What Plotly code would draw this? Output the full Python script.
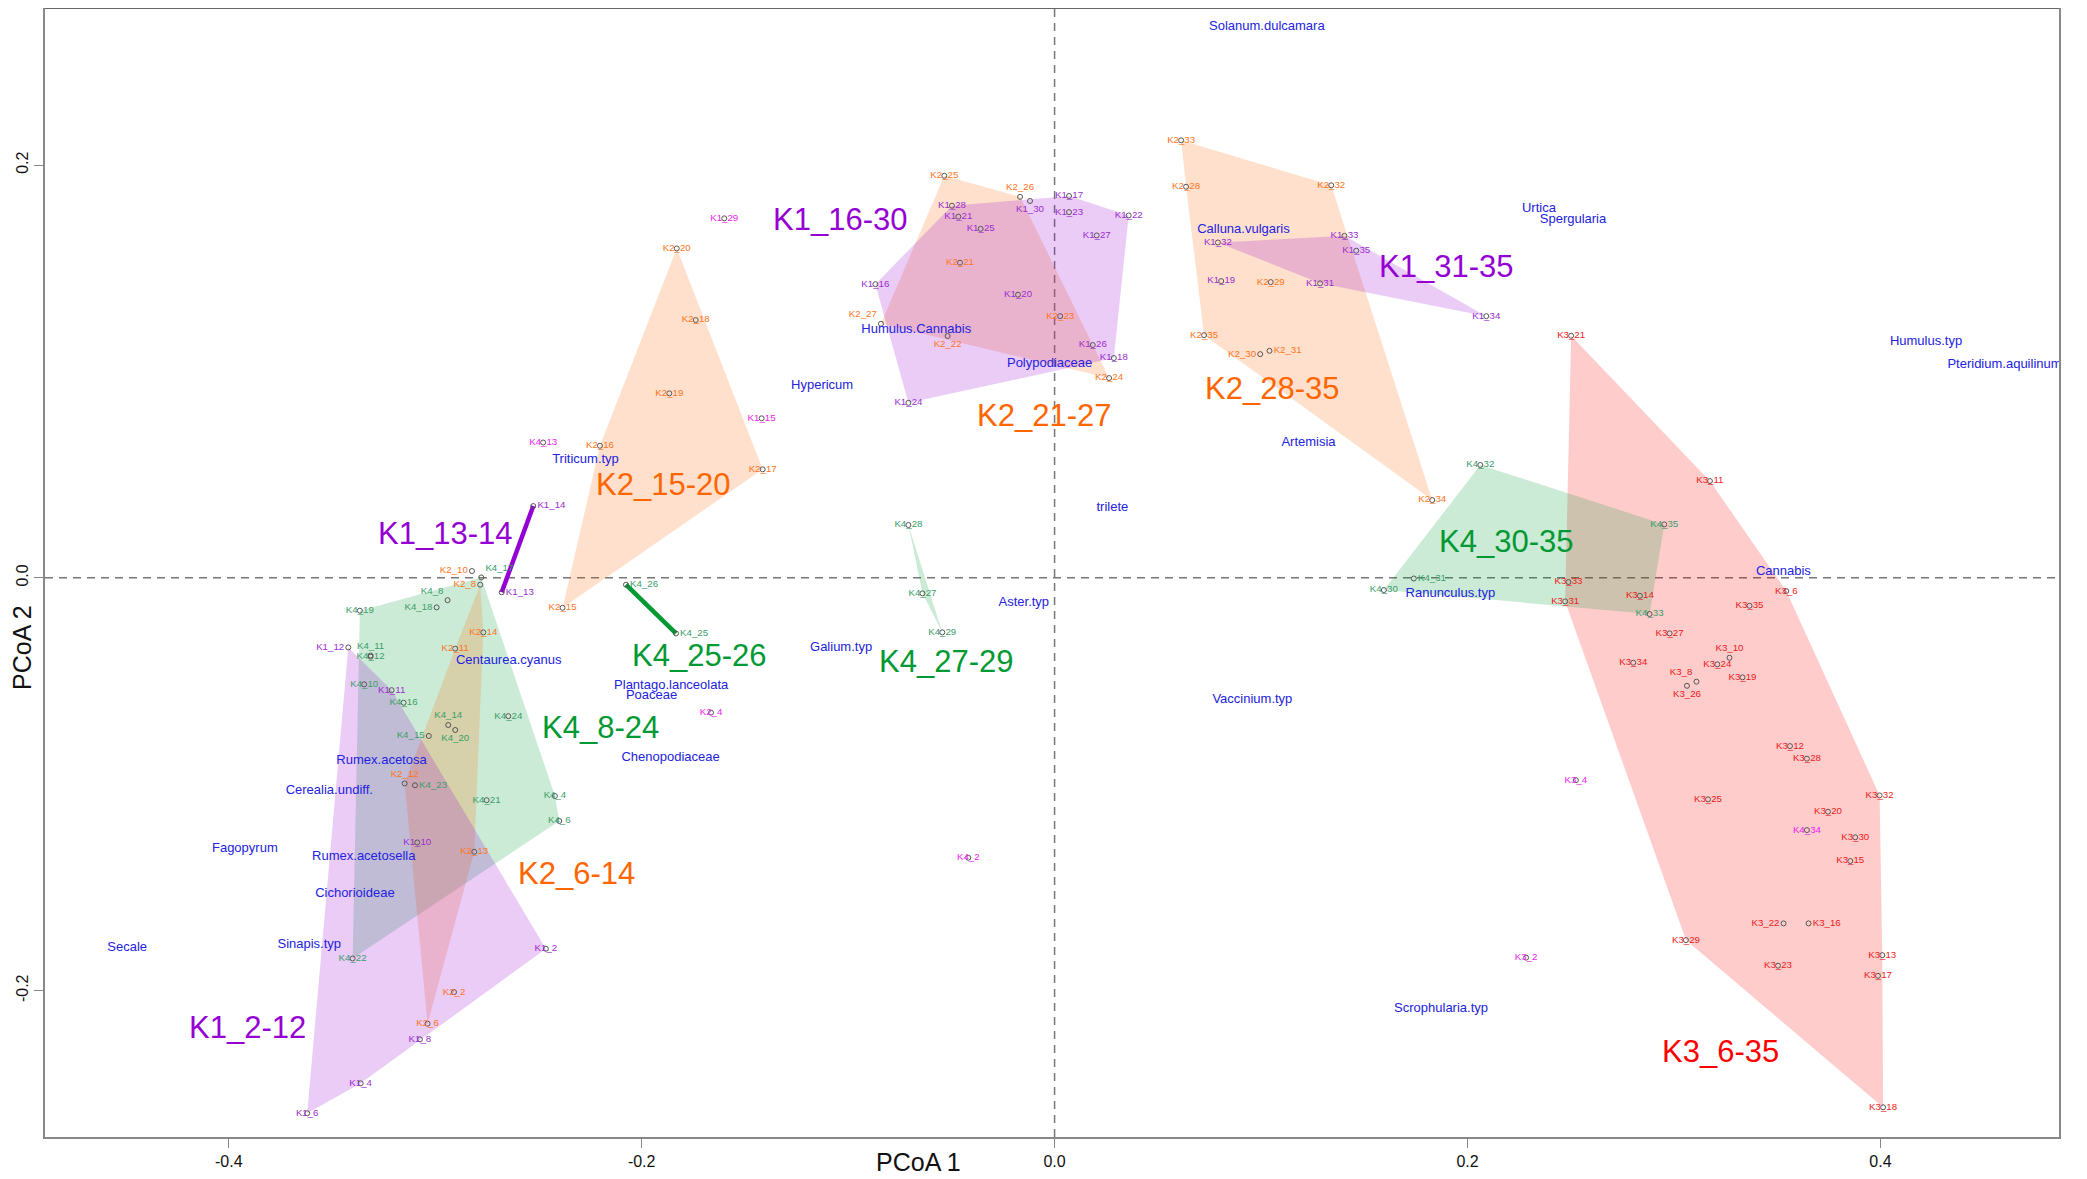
import plotly.graph_objects as go

# ---------------- sample scores (PCoA 1, PCoA 2) ----------------
K1_ids = [2, 4, 6, 8, 10, 11, 12, 13, 14, 15, 16, 17, 18, 19, 20, 21, 22, 23, 24, 25, 26, 27, 28, 29, 30, 31, 32, 33, 34, 35]
K1_x = [-0.2464, -0.3361, -0.3620, -0.3074, -0.3087, -0.3211, -0.3421, -0.2678, -0.2525, -0.1419,
        -0.0868, 0.0070, 0.0287, 0.0807, -0.0177, -0.0466, 0.0359, 0.0070, -0.0708, -0.0358,
        0.0185, 0.0204, -0.0497, -0.1600, -0.0119, 0.1286, 0.0791, 0.1404, 0.2091, 0.1461]
K1_y = [-0.1797, -0.2449, -0.2594, -0.2236, -0.1282, -0.0544, -0.0337, -0.0070, 0.0348, 0.0773,
        0.1423, 0.1850, 0.1065, 0.1438, 0.1372, 0.1750, 0.1756, 0.1772, 0.0848, 0.1691,
        0.1128, 0.1659, 0.1803, 0.1742, 0.1826, 0.1427, 0.1625, 0.1657, 0.1268, 0.1585]

K2_ids = [2, 4, 6, 8, 10, 11, 12, 13, 14, 15, 16, 17, 18, 19, 20, 21, 22, 23, 24, 25, 26, 27, 28, 29, 30, 31, 32, 33, 34, 35]
K2_x = [-0.2909, -0.1664, -0.3037, -0.2782, -0.2822, -0.2903, -0.3148, -0.2811, -0.2767, -0.2383,
        -0.2202, -0.1414, -0.1738, -0.1866, -0.1830, -0.0458, -0.0518, 0.0027, 0.0264, -0.0534,
        -0.0167, -0.0841, 0.0637, 0.1047, 0.0996, 0.1041, 0.1340, 0.0613, 0.1829, 0.0724]
K2_y = [-0.2007, -0.0653, -0.2160, -0.0033, 0.0033, -0.0343, -0.0996, -0.1327, -0.0264, -0.0145,
        0.0640, 0.0526, 0.1249, 0.0894, 0.1596, 0.1527, 0.1172, 0.1268, 0.0968, 0.1948,
        0.1846, 0.1231, 0.1895, 0.1433, 0.1084, 0.1100, 0.1902, 0.2120, 0.0377, 0.1176]

K3_ids = [2, 4, 6, 8, 10, 11, 12, 13, 14, 15, 16, 17, 18, 19, 20, 21, 22, 23, 24, 25, 26, 27, 28, 29, 30, 31, 32, 33, 34, 35]
K3_x = [0.2284, 0.2525, 0.3544, 0.3109, 0.3269, 0.3174, 0.3562, 0.4009, 0.2835, 0.3854,
        0.3652, 0.3988, 0.4013, 0.3332, 0.3746, 0.2502, 0.3531, 0.3504, 0.3210, 0.3165,
        0.3063, 0.2979, 0.3644, 0.3058, 0.3878, 0.2473, 0.3996, 0.2489, 0.2803, 0.3366]
K3_y = [-0.1840, -0.0980, -0.0064, -0.0503, -0.0387, 0.0469, -0.0815, -0.1828, -0.0087, -0.1372,
        -0.1674, -0.1928, -0.2565, -0.0482, -0.1133, 0.1173, -0.1674, -0.1879, -0.0419, -0.1073,
        -0.0523, -0.0269, -0.0876, -0.1755, -0.1257, -0.0114, -0.1054, -0.0020, -0.0411, -0.0135]

K4_ids = [2, 4, 6, 8, 10, 11, 12, 13, 14, 15, 16, 17, 18, 19, 20, 21, 22, 23, 24, 25, 26, 27, 28, 29, 30, 31, 32, 33, 34, 35]
K4_x = [-0.0418, -0.2420, -0.2399, -0.2940, -0.3344, -0.3313, -0.3313, -0.2477, -0.2937, -0.3031,
        -0.3153, -0.2777, -0.2993, -0.3365, -0.2903, -0.2751, -0.3400, -0.3098, -0.2646, -0.1834,
        -0.2076, -0.0640, -0.0708, -0.0544, 0.1595, 0.1740, 0.2062, 0.2882, 0.3644, 0.2953]
K4_y = [-0.1356, -0.1057, -0.1178, -0.0108, -0.0516, -0.0376, -0.0382, 0.0656, -0.0713, -0.0766,
        -0.0605, 0.0002, -0.0143, -0.0159, -0.0737, -0.1077, -0.1844, -0.1005, -0.0670, -0.0269,
        -0.0033, -0.0075, 0.0256, -0.0264, -0.0059, -0.0003, 0.0547, -0.0175, -0.1222, 0.0259]

# samples that fall outside their group (shown in magenta)
outliers = ["K1_15", "K1_29", "K2_4", "K3_2", "K3_4", "K4_2", "K4_13", "K4_34"]

# ---------------- groups (hulls) ----------------
group_names = ["K3_6-35", "K4_8-24", "K4_25-26", "K4_27-29", "K4_30-35",
               "K2_6-14", "K2_15-20", "K2_21-27", "K2_28-35",
               "K1_2-12", "K1_13-14", "K1_16-30", "K1_31-35"]
group_members = {
    "K1_2-12": [2, 4, 6, 8, 10, 11, 12],
    "K1_13-14": [13, 14],
    "K1_16-30": [16, 17, 18, 20, 21, 22, 23, 24, 25, 26, 27, 28, 30],
    "K1_31-35": [31, 32, 33, 34, 35],
    "K2_6-14": [6, 8, 11, 12, 13, 14],
    "K2_15-20": [15, 16, 17, 18, 19, 20],
    "K2_21-27": [21, 22, 23, 24, 25, 26, 27],
    "K2_28-35": [28, 29, 30, 31, 32, 33, 34, 35],
    "K3_6-35": [6, 8, 10, 11, 12, 13, 14, 15, 16, 17, 18, 19, 20, 21, 22, 23, 24, 25, 26, 27, 28, 29, 30, 31, 32, 33, 34, 35],
    "K4_8-24": [4, 6, 8, 10, 11, 12, 14, 15, 16, 17, 18, 19, 20, 21, 22, 23, 24],
    "K4_25-26": [25, 26],
    "K4_27-29": [27, 28, 29],
    "K4_30-35": [30, 31, 32, 33, 35],
}
group_label_x = [0.3224, -0.2199, -0.1722, -0.0527, 0.2185,
                 -0.2315, -0.1895, -0.0053, 0.1053,
                 -0.3911, -0.2953, -0.1039, 0.1897]
group_label_y = [-0.2296, -0.0724, -0.0377, -0.0406, 0.0175,
                 -0.1432, 0.0450, 0.0787, 0.0916,
                 -0.2178, 0.0216, 0.1734, 0.1507]

# ---------------- species scores ----------------
species = ["Solanum.dulcamara", "Urtica", "Spergularia", "Calluna.vulgaris", "Humulus.Cannabis",
           "Polypodiaceae", "Hypericum", "Humulus.typ", "Pteridium.aquilinum", "Artemisia",
           "Triticum.typ", "trilete", "Cannabis", "Ranunculus.typ", "Aster.typ",
           "Centaurea.cyanus", "Galium.typ", "Plantago.lanceolata", "Poaceae", "Vaccinium.typ",
           "Chenopodiaceae", "Rumex.acetosa", "Cerealia.undiff.", "Fagopyrum", "Rumex.acetosella",
           "Cichorioideae", "Secale", "Sinapis.typ", "Scrophularia.typ"]
sp_x = [0.1028, 0.2346, 0.2511, 0.0915, -0.0670,
        -0.0024, -0.1126, 0.4221, 0.4601, 0.1230,
        -0.2272, 0.0280, 0.3530, 0.1917, -0.0149,
        -0.2644, -0.1034, -0.1857, -0.1952, 0.0958,
        -0.1860, -0.3260, -0.3513, -0.3922, -0.3346,
        -0.3389, -0.4492, -0.3610, 0.1872]
sp_y = [0.2670, 0.1790, 0.1733, 0.1688, 0.1201,
        0.1039, 0.0931, 0.1144, 0.1034, 0.0656,
        0.0571, 0.0340, 0.0030, -0.0078, -0.0119,
        -0.0402, -0.0337, -0.0523, -0.0573, -0.0589,
        -0.0871, -0.0886, -0.1033, -0.1314, -0.1351,
        -0.1532, -0.1790, -0.1778, -0.2088]

# ---------------- styles ----------------
FONT = "Liberation Sans, Arial, Helvetica, sans-serif"
main_col = {"K1": "#9400D3", "K2": "#FF6600", "K3": "#FF0000", "K4": "#009933"}
fill_col = {"K1": "rgba(148,0,211,0.2)", "K2": "rgba(255,102,0,0.2)",
            "K3": "rgba(255,0,0,0.2)", "K4": "rgba(0,153,51,0.2)"}
pt_col = {"K1": "#9A2ED0", "K2": "#FF7420", "K3": "#EE1A1A", "K4": "#3A9E6A"}
out_col = "#EE22EE"
label_pos = {
    "K2_26": "top center", "K1_30": "bottom center", "K2_27": "top left", "K2_22": "bottom center",
    "K2_30": "middle left", "K2_31": "middle right", "K2_10": "middle left", "K4_17": "top right",
    "K2_8": "middle left", "K1_13": "middle right", "K1_14": "middle right", "K4_8": "top left",
    "K4_18": "middle left", "K1_12": "middle left", "K4_11": "top center", "K4_14": "top center",
    "K4_20": "bottom center", "K4_15": "middle left", "K2_12": "top center", "K4_23": "middle right",
    "K4_26": "middle right", "K4_25": "middle right", "K4_31": "middle right", "K3_10": "top center",
    "K3_8": "top left", "K3_26": "bottom center", "K3_22": "middle left", "K3_16": "middle right",
}

site_data = {"K1": (K1_ids, K1_x, K1_y), "K2": (K2_ids, K2_x, K2_y),
             "K3": (K3_ids, K3_x, K3_y), "K4": (K4_ids, K4_x, K4_y)}


def convex_hull(pts):
    pts = sorted(set(pts))
    if len(pts) <= 2:
        return pts

    def cross(o, a, b):
        return (a[0] - o[0]) * (b[1] - o[1]) - (a[1] - o[1]) * (b[0] - o[0])
    lower, upper = [], []
    for p in pts:
        while len(lower) >= 2 and cross(lower[-2], lower[-1], p) <= 0:
            lower.pop()
        lower.append(p)
    for p in reversed(pts):
        while len(upper) >= 2 and cross(upper[-2], upper[-1], p) <= 0:
            upper.pop()
        upper.append(p)
    return lower[:-1] + upper[:-1]


fig = go.Figure()

# hulls
for g in group_names:
    site = g[:2]
    ids, xs, ys = site_data[site]
    pts = [(xs[ids.index(i)], ys[ids.index(i)]) for i in group_members[g]]
    if len(pts) == 2:
        fig.add_trace(go.Scatter(x=[p[0] for p in pts], y=[p[1] for p in pts], mode="lines",
                                 line=dict(color=main_col[site], width=4.5),
                                 hoverinfo="skip", showlegend=False))
    else:
        h = convex_hull(pts)
        h = h + [h[0]]
        fig.add_trace(go.Scatter(x=[p[0] for p in h], y=[p[1] for p in h], mode="lines",
                                 fill="toself", fillcolor=fill_col[site],
                                 line=dict(width=0, color="rgba(0,0,0,0)"),
                                 hoverinfo="skip", showlegend=False))

# sample points + labels
for site in ["K1", "K2", "K3", "K4"]:
    ids, xs, ys = site_data[site]
    names = [f"{site}_{i}" for i in ids]
    cols = [out_col if n in outliers else pt_col[site] for n in names]
    pos = [label_pos.get(n, "middle center") for n in names]
    fig.add_trace(go.Scatter(
        x=xs, y=ys, mode="markers+text", text=names, textposition=pos,
        textfont=dict(family=FONT, size=9.7, color=cols),
        marker=dict(symbol="circle-open", size=5, color="#555555", line=dict(width=1, color="#555555")),
        hoverinfo="text", showlegend=False, cliponaxis=False))

# species labels
fig.add_trace(go.Scatter(x=sp_x, y=sp_y, mode="text", text=species, textposition="middle center",
                         textfont=dict(family=FONT, size=13, color="#2222E0"),
                         hoverinfo="text", showlegend=False, cliponaxis=False))

# group labels
for g, gx, gy in zip(group_names, group_label_x, group_label_y):
    fig.add_annotation(x=gx, y=gy, text=g, showarrow=False, xanchor="center", yanchor="middle",
                       font=dict(family=FONT, size=31, color=main_col[g[:2]]))

# reference lines
fig.add_shape(type="line", xref="x", yref="paper", x0=0, x1=0, y0=0, y1=1,
              line=dict(color="#777777", width=1.5, dash="8px,6px"), layer="below")
fig.add_shape(type="line", xref="paper", yref="y", x0=0, x1=1, y0=0, y1=0,
              line=dict(color="#777777", width=1.5, dash="8px,6px"), layer="below")
fig.add_shape(type="line", xref="paper", yref="paper", x0=0, x1=1, y0=1, y1=1,
              line=dict(color="#333333", width=1.5))

# page body has an 8px margin, so the figure is laid out 8px in from the window edge
W, H = 2087, 1179
L, R, T, B = 37, 36, 0, 50
pw, ph = W - L - R, H - T - B
OFF = 8
fig.add_annotation(xref="paper", yref="paper", x=(918 - OFF - L) / pw, y=(H - B - (1162 - OFF)) / ph,
                   text="PCoA 1", showarrow=False, xanchor="center", yanchor="middle",
                   font=dict(family=FONT, size=25, color="#111111"))
fig.add_annotation(xref="paper", yref="paper", x=(22 - OFF - L) / pw, y=(H - B - (648 - OFF)) / ph,
                   text="PCoA 2", showarrow=False, xanchor="center", yanchor="middle", textangle=-90,
                   font=dict(family=FONT, size=25, color="#111111"))

axis_common = dict(showgrid=False, zeroline=False, showline=True, linecolor="#888888", linewidth=1.5,
                   mirror=True, ticks="outside", ticklen=9, tickwidth=1.2, tickcolor="#888888",
                   tickfont=dict(family=FONT, size=16, color="#111111"))
fig.update_layout(
    width=W, height=H, margin=dict(l=L, r=R, t=T, b=B, autoexpand=False),
    paper_bgcolor="white", plot_bgcolor="white", showlegend=False,
    xaxis=dict(range=[-0.489, 0.4865], tickvals=[-0.4, -0.2, 0.0, 0.2, 0.4],
               ticktext=["-0.4", "-0.2", "0.0", "0.2", "0.4"], **axis_common),
    yaxis=dict(range=[-0.2709, 0.2761], tickvals=[-0.2, 0.0, 0.2],
               ticktext=["-0.2", "0.0", "0.2"], tickangle=-90, **axis_common),
)

fig.write_html("out.html")
